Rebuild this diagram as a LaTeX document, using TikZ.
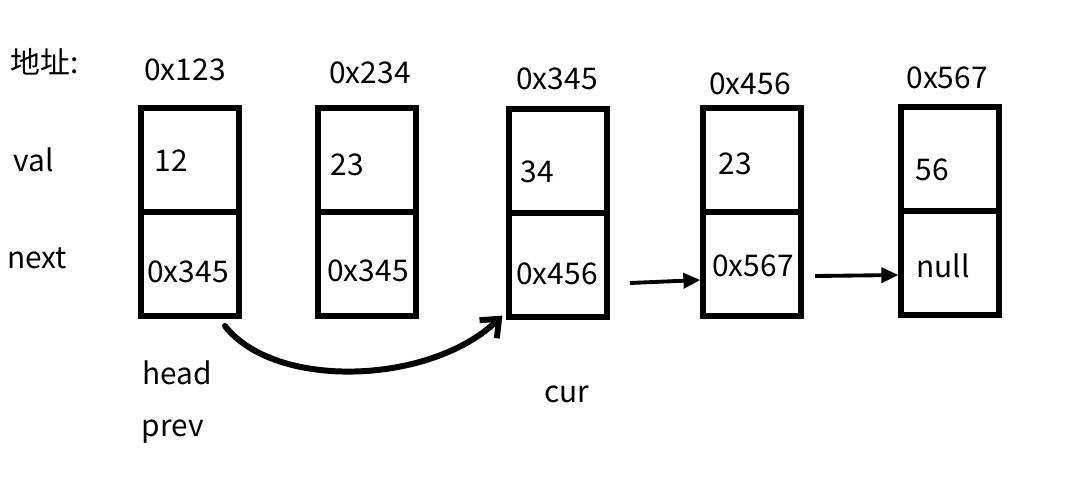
\documentclass[tikz,border=0pt]{standalone}
\usepackage{fontspec}
\setmainfont{Noto Sans CJK SC}
\usetikzlibrary{arrows.meta}

\tikzset{
  cell/.style={draw, line width=3pt, minimum width=1.96cm, minimum height=2.08cm, inner sep=0pt},
  txt/.style={inner sep=0pt, font=\fontsize{17}{20}\selectfont},
  link/.style={line width=2.2pt, -{Triangle[length=0.34cm, width=0.3cm]}},
  curvelink/.style={line width=3.4pt, line cap=round, -{Straight Barb[length=0.3cm, width=0.5cm, line width=3.4pt]}}
}

\begin{document}
\begin{tikzpicture}[x=0.02cm, y=-0.02cm]
\useasboundingbox (0,0) rectangle (1067,485);

% boxes
\node[cell] (v1) at (190,160) {};
\node[cell] (n1) at (190,264) {};
\node[cell] (v2) at (367,160) {};
\node[cell] (n2) at (367,264) {};
\node[cell] (v3) at (558,161) {};
\node[cell] (n3) at (558,265) {};
\node[cell] (v4) at (752,160) {};
\node[cell] (n4) at (752,264) {};
\node[cell] (v5) at (950,159) {};
\node[cell] (n5) at (950,263) {};

% addresses
\node[txt] (addr) at (45,62) {地址:};
\node[txt] (a1) at (185,70) {0x123};
\node[txt] (a2) at (370,73) {0x234};
\node[txt] (a3) at (557,79) {0x345};
\node[txt] (a4) at (750,84) {0x456};
\node[txt] (a5) at (947,78) {0x567};

% field names
\node[txt] (val) at (34,160) {val};
\node[txt] (next) at (37,258) {next};

% values
\node[txt] (t1) at (171,161) {12};
\node[txt] (t2) at (347,165) {23};
\node[txt] (t3) at (537,172) {34};
\node[txt] (t4) at (735,164) {23};
\node[txt] (t5) at (932,170) {56};

% next pointers
\node[txt] (p1) at (188,272) {0x345};
\node[txt] (p2) at (368,271) {0x345};
\node[txt] (p3) at (557,274) {0x456};
\node[txt] (p4) at (753,266) {0x567};
\node[txt] (p5) at (943,266) {null};

% pointer names
\node[txt] (head) at (177,373) {head};
\node[txt] (prev) at (173,432) {prev};
\node[txt] (cur) at (567,394) {cur};

% arrows
\coordinate (s1) at (630,283);
\coordinate (s2) at (815,276);
\coordinate (s3) at (225,326);
\draw[link] (s1) -- ([yshift=-0.32cm]n4.west);
\draw[link] (s2) -- ([yshift=-0.24cm]n5.west);
\draw[curvelink] (s3) .. controls (275,390) and (430,385) .. ([xshift=-0.08cm, yshift=0.08cm]n3.south west);
\end{tikzpicture}
\end{document}
